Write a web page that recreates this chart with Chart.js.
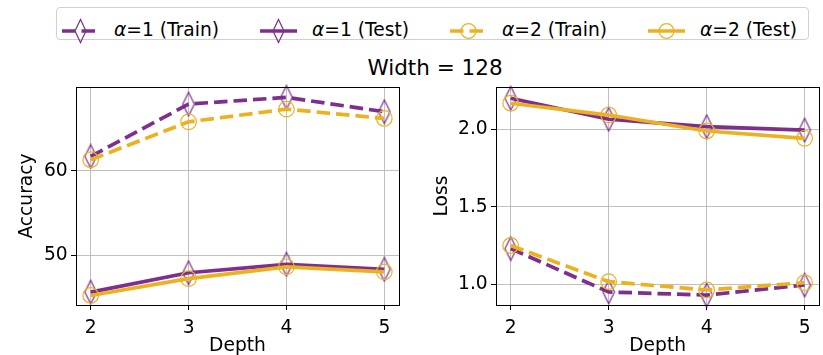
<!DOCTYPE html>
<html>
<head>
<meta charset="utf-8">
<script src="https://cdn.jsdelivr.net/npm/chart.js@4.4.1/dist/chart.umd.min.js"></script>
<style>
  html, body { margin:0; padding:0; background:#fff; }
  body { width:823px; height:355px; position:relative; overflow:hidden; font-family:"DejaVu Sans", sans-serif; color:#000; }
  #legend { position:absolute; left:56px; top:7px; width:753px; height:33px; box-sizing:border-box; border:1px solid #d0d0d0; border-radius:4px; background:#fff; }
  .lg-icon { position:absolute; top:8px; }
  .lg-text { position:absolute; top:11px; font-size:18.67px; line-height:22px; white-space:nowrap; }
  #title { position:absolute; left:335px; width:200px; top:55px; text-align:center; font-size:21.5px; line-height:26px; white-space:nowrap; }
  canvas { position:absolute; }
</style>
</head>
<body>
<div id="legend"></div>
<div id="title">Width = 128</div>
<canvas id="c1" width="410" height="280" style="left:0px; top:80px;"></canvas>
<canvas id="c2" width="413" height="280" style="left:410px; top:80px;"></canvas>
<script>
// ---- data ----
const depths = [2, 3, 4, 5];
const xTicks = [2, 3, 4, 5];
const seriesNames = ['α=1 (Train)', 'α=1 (Test)', 'α=2 (Train)', 'α=2 (Test)'];

const accTrainA1 = [61.7, 67.9, 68.7, 67.0];
const accTestA1  = [45.6, 47.9, 48.9, 48.3];
const accTrainA2 = [61.3, 65.8, 67.3, 66.2];
const accTestA2  = [45.2, 47.2, 48.6, 48.0];

const lossTrainA1 = [1.23, 0.95, 0.93, 0.995];
const lossTestA1  = [2.20, 2.065, 2.017, 1.995];
const lossTrainA2 = [1.25, 1.017, 0.963, 1.01];
const lossTestA2  = [2.168, 2.092, 1.989, 1.942];

const accTicks  = [50, 60];
const lossTicks = [1.0, 1.5, 2.0];
const xLimits    = [1.85, 5.15];
const accLimits  = [44.07, 69.93];
const lossLimits = [0.866, 2.273];

// ---- styles ----
const PURPLE = '#7E2F8E';
const YELLOW = '#EDB120';
const FONT = { family: 'DejaVu Sans', size: 18.67, lineHeight: 1.2 };
const LW = 3.7;
const DASH = [13.5, 6];

function diamondCanvas(color) {
  const c = document.createElement('canvas');
  c.width = 14; c.height = 26;
  const g = c.getContext('2d');
  g.strokeStyle = color; g.lineWidth = 1.2;
  g.beginPath();
  g.moveTo(7, 1.2); g.lineTo(12.8, 13); g.lineTo(7, 24.8); g.lineTo(1.2, 13); g.closePath();
  g.stroke();
  return c;
}
const diamond = diamondCanvas(PURPLE);

function ds(label, data, color, dashed, marker, order) {
  return {
    label, data: data.map((v, i) => ({ x: depths[i], y: v })),
    borderColor: color, borderWidth: LW, borderDash: dashed ? DASH : [],
    pointStyle: marker === 'd' ? diamond : 'circle',
    pointRadius: 7.8, pointHoverRadius: 7.8,
    pointBorderColor: color, pointBorderWidth: 1.2,
    pointBackgroundColor: 'rgba(0,0,0,0)',
    fill: false, tension: 0, clip: false, order
  };
}

const framePlugin = {
  id: 'frame',
  afterDatasetsDraw(chart) {
    const { ctx, chartArea: a } = chart;
    ctx.save();
    ctx.strokeStyle = '#000';
    ctx.lineWidth = 1;
    ctx.strokeRect(Math.round(a.left) + 0.5, Math.round(a.top) + 0.5,
                   Math.round(a.right - a.left), Math.round(a.bottom - a.top));
    ctx.restore();
  }
};

function zeroPad(s) { s.paddingTop = 0; s.paddingBottom = 0; s.paddingLeft = 0; s.paddingRight = 0; }

function makeChart(id, datasets, yLim, yTicks, yLabel, yFmt, yWidth, padRight, yTitlePad) {
  return new Chart(document.getElementById(id), {
    type: 'line',
    data: { datasets },
    options: {
      responsive: false, animation: false, devicePixelRatio: 1,
      layout: { autoPadding: false, padding: { left: 0, right: padRight, top: 7, bottom: 0 } },
      plugins: { legend: { display: false }, tooltip: { enabled: false }, title: { display: false } },
      scales: {
        x: {
          type: 'linear', min: xLimits[0], max: xLimits[1],
          afterBuildTicks: s => { s.ticks = xTicks.map(v => ({ value: v })); },
          afterFit: s => { s.height = 55; zeroPad(s); },
          grid: { color: '#b0b0b0', lineWidth: 0.8, tickColor: '#000', tickLength: 5, tickWidth: 1, drawTicks: true },
          border: { display: false },
          ticks: { color: '#000', font: FONT, padding: 7, maxRotation: 0, autoSkip: false, callback: v => String(v) },
          title: { display: true, text: 'Depth', color: '#000', font: FONT, padding: { top: 0, bottom: 2.3 } }
        },
        y: {
          type: 'linear', min: yLim[0], max: yLim[1],
          afterBuildTicks: s => { s.ticks = yTicks.map(v => ({ value: v })); },
          afterFit: s => { s.width = yWidth; zeroPad(s); },
          grid: { color: '#b0b0b0', lineWidth: 0.8, tickColor: '#000', tickLength: 5, tickWidth: 1, drawTicks: true },
          border: { display: false },
          ticks: { color: '#000', font: FONT, padding: 3.3, autoSkip: false, callback: yFmt },
          title: { display: true, text: yLabel, color: '#000', font: FONT, padding: { top: yTitlePad, bottom: 0 } }
        }
      }
    },
    plugins: [framePlugin]
  });
}

makeChart('c1', [
  ds(seriesNames[0], accTrainA1, PURPLE, true, 'd', 4),
  ds(seriesNames[1], accTestA1, PURPLE, false, 'd', 3),
  ds(seriesNames[2], accTrainA2, YELLOW, true, 'o', 2),
  ds(seriesNames[3], accTestA2, YELLOW, false, 'o', 1)
], accLimits, accTicks, 'Accuracy', v => String(v), 76, 11, 16.3);

makeChart('c2', [
  ds(seriesNames[0], lossTrainA1, PURPLE, true, 'd', 4),
  ds(seriesNames[1], lossTestA1, PURPLE, false, 'd', 3),
  ds(seriesNames[2], lossTrainA2, YELLOW, true, 'o', 2),
  ds(seriesNames[3], lossTestA2, YELLOW, false, 'o', 1)
], lossLimits, lossTicks, 'Loss', v => Number(v).toFixed(1), 86, 3.7, 20.5);

// ---- HTML legend (real text) ----
const legendEl = document.getElementById('legend');
const legendTextX = [114, 312, 502, 700];
const legendSpecs = [
  { color: PURPLE, dashed: true,  marker: 'd' },
  { color: PURPLE, dashed: false, marker: 'd' },
  { color: YELLOW, dashed: true,  marker: 'o' },
  { color: YELLOW, dashed: false, marker: 'o' }
];
seriesNames.forEach((name, i) => {
  const sp = legendSpecs[i];
  const left = legendTextX[i] - 52 - 57;
  const svgNS = 'http://www.w3.org/2000/svg';
  const svg = document.createElementNS(svgNS, 'svg');
  svg.setAttribute('width', '37'); svg.setAttribute('height', '30');
  svg.setAttribute('class', 'lg-icon');
  svg.style.left = left + 'px';
  const line = document.createElementNS(svgNS, 'line');
  line.setAttribute('x1', '0'); line.setAttribute('x2', '37');
  line.setAttribute('y1', '15'); line.setAttribute('y2', '15');
  line.setAttribute('stroke', sp.color); line.setAttribute('stroke-width', LW);
  if (sp.dashed) line.setAttribute('stroke-dasharray', DASH.join(' '));
  svg.appendChild(line);
  let m;
  if (sp.marker === 'd') {
    m = document.createElementNS(svgNS, 'polygon');
    m.setAttribute('points', '18.5,3.5 24,15 18.5,26.5 13,15');
  } else {
    m = document.createElementNS(svgNS, 'circle');
    m.setAttribute('cx', '18.5'); m.setAttribute('cy', '15'); m.setAttribute('r', '7.4');
  }
  m.setAttribute('fill', 'none'); m.setAttribute('stroke', sp.color); m.setAttribute('stroke-width', '1.2');
  svg.appendChild(m);
  legendEl.appendChild(svg);
  const t = document.createElement('span');
  t.className = 'lg-text';
  t.style.left = (legendTextX[i] - 57) + 'px';
  t.innerHTML = '<i>α</i>' + name.slice(1);
  legendEl.appendChild(t);
});
</script>
</body>
</html>
